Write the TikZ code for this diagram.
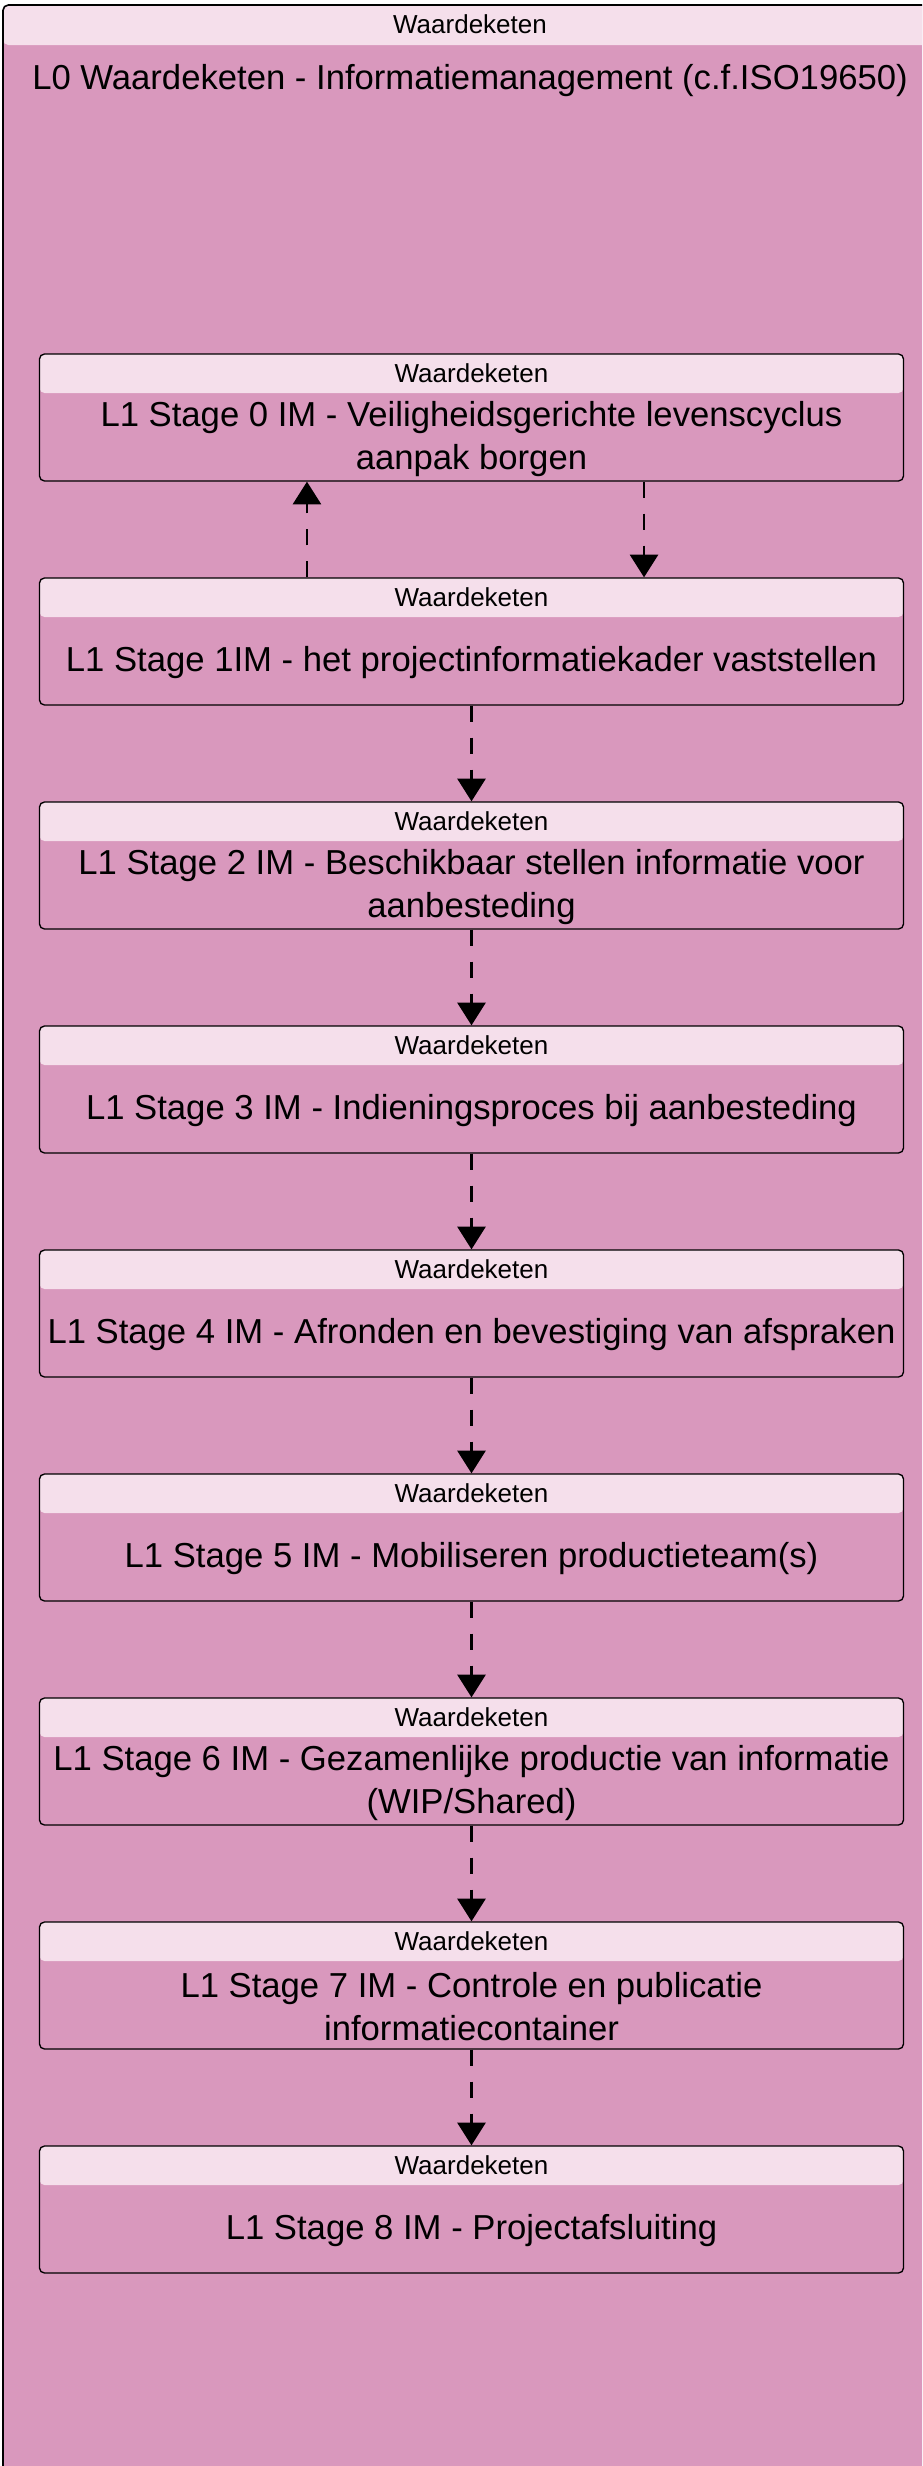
\documentclass[tikz,border=0pt]{standalone}
\usepackage{fontspec}
\setmainfont{Liberation Sans}
\usetikzlibrary{arrows.meta}
\definecolor{pinkbody}{RGB}{217,152,189}
\definecolor{pinkhead}{RGB}{245,223,235}
\tikzset{
  outerbox/.style={draw=black, line width=1.2pt, fill=pinkbody, rounded corners=4pt,
    minimum width=700.5pt, minimum height=1863.75pt, inner sep=0pt,
    path picture={\fill[pinkhead] (path picture bounding box.north west) rectangle ([yshift=-30pt]path picture bounding box.north east);}},
  stagebox/.style={draw=black, line width=1pt, fill=pinkbody, rounded corners=3.75pt,
    minimum width=648pt, minimum height=95.25pt, inner sep=0pt,
    path picture={\fill[pinkhead] (path picture bounding box.north west) rectangle ([yshift=-29.25pt]path picture bounding box.north east);}},
  headtext/.style={font=\fontsize{19.5}{23}\selectfont, inner sep=0pt, anchor=center},
  bodytext/.style={font=\fontsize{26}{32}\selectfont, inner sep=0pt, align=center, anchor=center},
  conn/.style={line width=2pt, dash pattern=on 12pt off 12pt, -{Triangle[width=21pt,length=17pt]}}
}
\newcommand\stagenode[3]{%
  \node[stagebox] (#1) at (471.5,#2) {};
  \node[headtext] (#1h) at ([yshift=-14.6pt]#1.north) {Waardeketen};
  \node[bodytext] (#1t) at ([yshift=-16pt]#1.center) {#3};
}
\begin{document}
\begin{tikzpicture}[x=0.75pt,y=-0.75pt]
\useasboundingbox (0,0) rectangle (922,2466);
\clip (0,0) rectangle (922,2466);
\node[outerbox] (L0) at (470,1247.5) {};
\node[headtext] (L0h) at ([yshift=-15pt]L0.north) {Waardeketen};
\node[bodytext] (L0t) at ([yshift=-57pt]L0.north) {L0 Waardeketen - Informatiemanagement (c.f.ISO19650)};
\stagenode{s0}{417.5}{L1 Stage 0 IM - Veiligheidsgerichte levenscyclus\\aanpak borgen}
\stagenode{s1}{641.5}{L1 Stage 1IM - het projectinformatiekader vaststellen}
\stagenode{s2}{865.5}{L1 Stage 2 IM - Beschikbaar stellen informatie voor\\aanbesteding}
\stagenode{s3}{1089.5}{L1 Stage 3 IM - Indieningsproces bij aanbesteding}
\stagenode{s4}{1313.5}{L1 Stage 4 IM - Afronden en bevestiging van afspraken}
\stagenode{s5}{1537.5}{L1 Stage 5 IM - Mobiliseren productieteam(s)}
\stagenode{s6}{1761.5}{L1 Stage 6 IM - Gezamenlijke productie van informatie\\(WIP/Shared)}
\stagenode{s7}{1985.5}{L1 Stage 7 IM - Controle en publicatie\\informatiecontainer}
\stagenode{s8}{2209.5}{L1 Stage 8 IM - Projectafsluiting}
\draw[conn] ([xshift=-123.4pt]s1.north) -- ([xshift=-123.4pt]s0.south);
\draw[conn] ([xshift=129.4pt]s0.south) -- ([xshift=129.4pt]s1.north);
\draw[conn] (s1.south) -- (s2.north);
\draw[conn] (s2.south) -- (s3.north);
\draw[conn] (s3.south) -- (s4.north);
\draw[conn] (s4.south) -- (s5.north);
\draw[conn] (s5.south) -- (s6.north);
\draw[conn] (s6.south) -- (s7.north);
\draw[conn] (s7.south) -- (s8.north);
\end{tikzpicture}
\end{document}
